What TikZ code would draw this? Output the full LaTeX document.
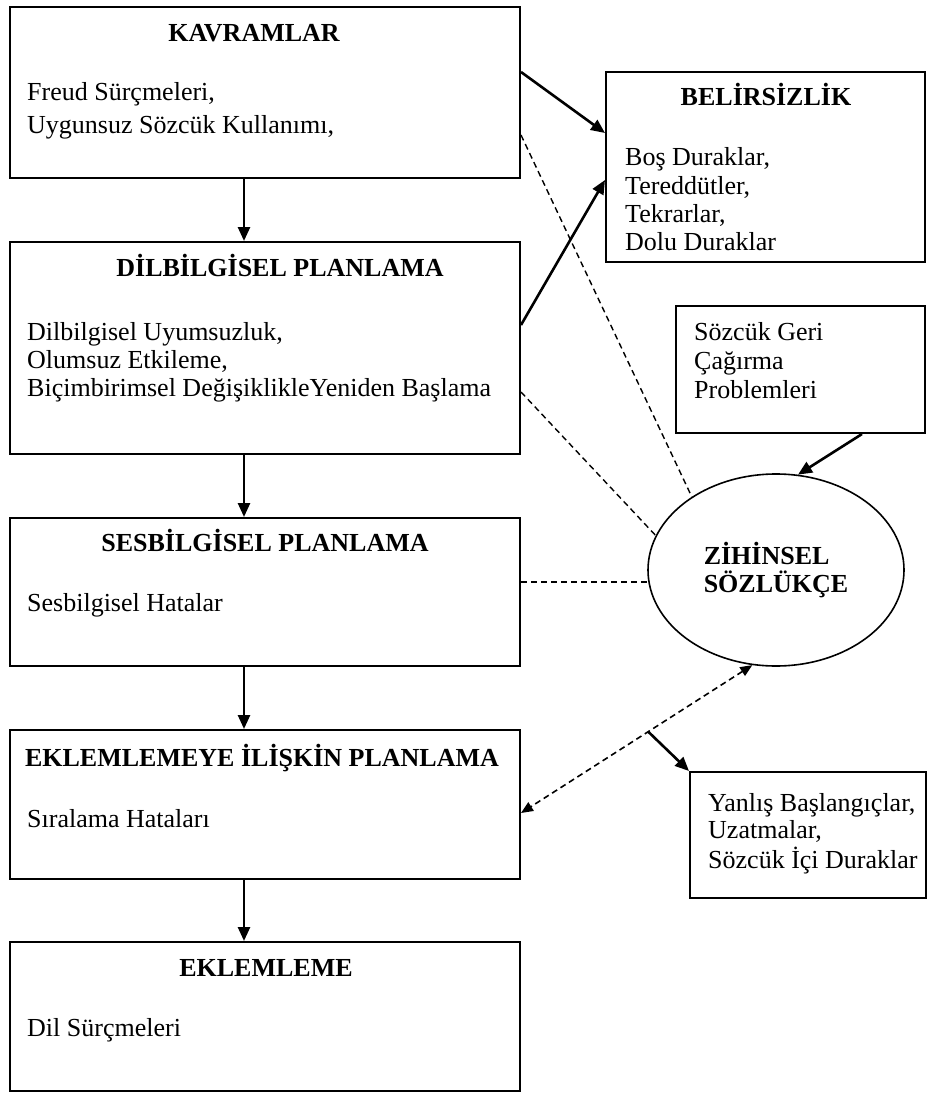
\documentclass[tikz,border=0pt]{standalone}
\usepackage{fontspec}
\setmainfont{Liberation Serif}
\usetikzlibrary{arrows.meta,calc,shapes.geometric}
\newcommand\txtlines[1]{\begin{tabular}[t]{@{}l@{}}#1\end{tabular}}
\begin{document}
\begin{tikzpicture}[x=1pt,y=-1pt,
  box/.style={draw, line width=2pt, inner sep=0pt},
  ttl/.style={font=\bfseries\fontsize{26}{30}\selectfont, inner sep=0pt, anchor=base},
  body/.style={font=\fontsize{26}{28.5}\selectfont, inner sep=0pt, anchor=base west},
  arr/.style={line width=2.6pt, -{Triangle[length=14pt,width=12pt]}},
  dline/.style={line width=1.4pt, dash pattern=on 6pt off 4pt},
  darr/.style={line width=1.6pt, dash pattern=on 6pt off 4pt, {Triangle[length=12pt,width=10pt]}-{Triangle[length=12pt,width=10pt]}}
]
\fill[white] (0,0) rectangle (928,1094);
\useasboundingbox (0,0) rectangle (928,1094);

% left column boxes
\node[box, minimum width=510.5pt, minimum height=171pt] (b1) at (264.75,92.5) {};
\node[box, minimum width=510.5pt, minimum height=212pt] (b2) at (264.75,348) {};
\node[box, minimum width=510.5pt, minimum height=148pt] (b3) at (264.75,592) {};
\node[box, minimum width=510.5pt, minimum height=149pt] (b4) at (264.75,804.5) {};
\node[box, minimum width=510.5pt, minimum height=149pt] (b5) at (264.75,1016.5) {};

% right column
\node[box, minimum width=319pt, minimum height=190pt] (bel) at (765.5,167) {};
\node[box, minimum width=249pt, minimum height=127pt] (soz) at (800.5,369.5) {};
\node[box, minimum width=236pt, minimum height=126pt] (yan) at (808,835) {};
\node[draw, line width=1.6pt, ellipse, inner sep=0pt, minimum width=256pt, minimum height=192pt,
      font=\bfseries\fontsize{26}{28}\selectfont, align=left] (z) at (776,570) {Z\.IH\.INSEL\\SÖZLÜKÇE};

% texts
\node[ttl] (t1) at (254,42) {KAVRAMLAR};
\node[body, font=\fontsize{26}{33}\selectfont] (p1) at (27,101) {\txtlines{Freud Sürçmeleri,\\Uygunsuz Sözcük Kullanımı,}};
\node[ttl] (t2) at (280,276) {D\.ILB\.ILG\.ISEL PLANLAMA};
\node[body, font=\fontsize{26}{28}\selectfont] (p2) at (27,340) {\txtlines{Dilbilgisel Uyumsuzluk,\\Olumsuz Etkileme,\\Biçimbirimsel DeğişiklikleYeniden Başlama}};
\node[ttl] (t3) at (265,551) {SESB\.ILG\.ISEL PLANLAMA};
\node[body] (p3) at (27,611) {Sesbilgisel Hatalar};
\node[ttl] (t4) at (262,766) {EKLEMLEMEYE \.IL\.IŞK\.IN PLANLAMA};
\node[body] (p4) at (27,827) {Sıralama Hataları};
\node[ttl] (t5) at (266,976) {EKLEMLEME};
\node[body] (p5) at (27,1036) {Dil Sürçmeleri};
\node[ttl] (tb) at (766,106) {BEL\.IRS\.IZL\.IK};
\node[body, font=\fontsize{26}{28.3}\selectfont] (pb) at (625,166) {\txtlines{Boş Duraklar,\\Tereddütler,\\Tekrarlar,\\Dolu Duraklar}};
\node[body, font=\fontsize{26}{29}\selectfont] (ps) at (694,340) {\txtlines{Sözcük Geri\\Çağırma\\Problemleri}};
\node[body, font=\fontsize{26}{27.5}\selectfont] (py) at (708,811) {\txtlines{Yanlış Başlangıçlar,\\Uzatmalar,\\Sözcük İçi Duraklar}};

% connectors
\coordinate (ax) at (244,0);
\draw[arr] (b1.south -| ax) -- (b2.north -| ax);
\draw[arr] (b2.south -| ax) -- (b3.north -| ax);
\draw[arr] (b3.south -| ax) -- (b4.north -| ax);
\draw[arr] (b4.south -| ax) -- (b5.north -| ax);

\draw[arr] ([yshift=20.5pt]b1.east) -- ([yshift=34pt]bel.west);
\draw[arr] ([yshift=23pt]b2.east) -- ([yshift=-13pt]bel.west);

\draw[dline] ([yshift=-42.5pt]b1.east) -- (z.139);
\draw[dline] ([yshift=-44pt]b2.east) -- (z.164.5);
\draw[dline] ([yshift=10pt]b3.east) -- ([yshift=-12pt]z.west);

\draw[arr] ([xshift=61.5pt]soz.south) -- (z.77);

\coordinate (b4r) at ([yshift=-8.5pt]b4.east);
\draw[darr] (z.256) -- (b4r);
\coordinate (br) at ($(z.256)!0.45!(b4r)$);
\draw[arr] (br) -- (yan.north west);
\end{tikzpicture}
\end{document}
